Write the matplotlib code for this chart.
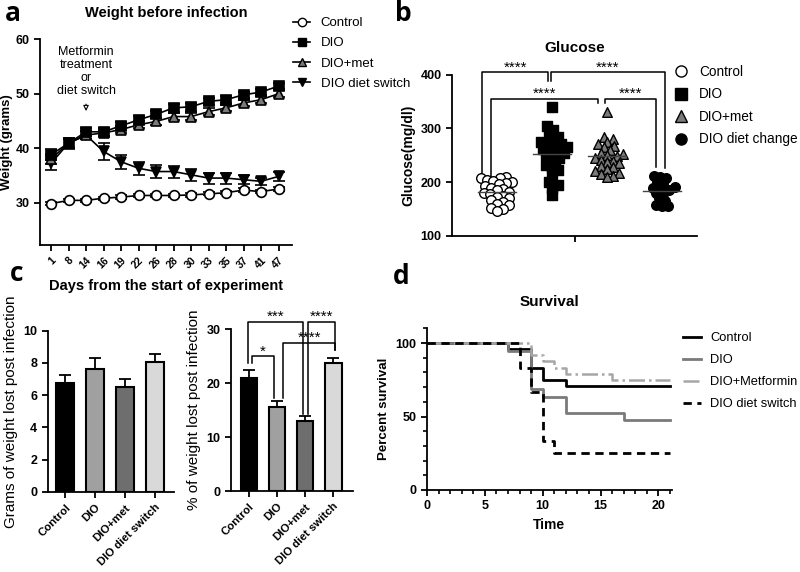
import matplotlib
matplotlib.use('Agg')
import matplotlib.pyplot as plt
from matplotlib.lines import Line2D
import numpy as np

plt.rcParams['font.family'] = ['Liberation Sans', 'DejaVu Sans']

# ---- panel a: weight before infection
days = ['1', '8', '14', '16', '19', '22', '26', '28', '30', '33', '35', '37', '41', '47']
w_control = [29.8, 30.4, 30.4, 30.8, 31.0, 31.3, 31.3, 31.3, 31.4, 31.6, 31.8, 32.3, 32.0, 32.5]
w_dio = [38.8, 40.9, 43.0, 43.0, 44.1, 45.2, 46.2, 47.4, 47.6, 48.6, 48.9, 49.8, 50.3, 51.4]
w_met = [38.0, 40.9, 42.4, 42.8, 43.4, 44.3, 44.9, 45.8, 45.8, 46.7, 47.4, 48.3, 48.9, 50.0]
w_switch = [37.2, 40.9, 42.4, 39.4, 37.5, 36.3, 35.7, 35.7, 35.1, 34.5, 34.5, 34.2, 33.9, 34.8]
e_control = [0.3] * 14
e_dio = [1.0, 0.8, 0.7, 0.7, 0.7, 0.7, 0.7, 0.7, 0.7, 0.6, 0.6, 0.6, 0.6, 0.6]
e_met = [1.0, 0.8, 0.7, 0.6, 0.6, 0.6, 0.6, 0.6, 0.6, 0.6, 0.6, 0.6, 0.6, 0.6]
e_switch = [1.3, 1.0, 0.8, 1.5, 1.3, 1.2, 1.2, 1.1, 1.1, 1.0, 1.0, 0.8, 0.7, 0.9]

# ---- panel b: glucose
glu_groups = ['Control', 'DIO', 'DIO+met', 'DIO diet change']
glu_control = [210, 208, 207, 205, 203, 200, 198, 196, 193, 190, 188, 185, 182,
               180, 178, 175, 172, 170, 167, 163, 160, 157, 153, 150, 147]
glu_dio = [340, 305, 298, 290, 284, 280, 275, 272, 270, 268, 265, 262, 260, 258,
           255, 252, 250, 246, 242, 238, 232, 228, 222, 215, 200, 195, 190, 177]
glu_met = [330, 285, 280, 275, 272, 268, 265, 260, 255, 252, 250, 248, 245,
           242, 240, 238, 235, 230, 228, 225, 220, 218, 215, 212, 210]
glu_switch = [212, 210, 208, 200, 198, 192, 190, 188, 185, 180, 178, 170, 165, 158, 155, 155]

# ---- panel c: weight lost
c_groups = ['Control', 'DIO', 'DIO+met', 'DIO diet switch']
lost_grams = [6.77, 7.64, 6.52, 8.07]
lost_grams_err = [0.47, 0.68, 0.5, 0.5]
lost_pct = [20.9, 15.5, 13.0, 23.7]
lost_pct_err = [1.5, 1.2, 0.9, 0.9]

# ---- panel d: survival
surv_control_t = [0, 7, 9, 10, 12, 21]
surv_control = [100, 95.8, 83.3, 75, 70.8, 70.8]
surv_dio_t = [0, 7, 9, 10, 12, 17, 21]
surv_dio = [100, 94.7, 68.4, 63.2, 52.6, 47.4, 47.4]
surv_met_t = [0, 9, 10, 11, 12, 16, 21]
surv_met = [100, 91.7, 87.5, 83.3, 79.2, 75, 75]
surv_switch_t = [0, 8, 9, 10, 11, 21]
surv_switch = [100, 83.3, 66.7, 33.3, 25, 25]

fig = plt.figure(figsize=(8, 5.72), dpi=100)
W, H = 800.0, 572.0


def add_ax(x0, y0, x1, y1):
    # pixel box -> figure axes
    return fig.add_axes([x0 / W, 1 - y1 / H, (x1 - x0) / W, (y1 - y0) / H])


def style(ax):
    for s in ['top', 'right']:
        ax.spines[s].set_visible(False)
    for s in ['left', 'bottom']:
        ax.spines[s].set_linewidth(1.3)
    ax.tick_params(direction='out', width=1.3, length=4, labelsize=9)
    for lab in ax.get_xticklabels() + ax.get_yticklabels():
        lab.set_fontweight('bold')


def bracket(ax, x1, x2, y, y1, y2, txt, fs=11):
    ax.plot([x1, x1, x2, x2], [y1, y, y, y2], color='black', lw=1.1, clip_on=False)
    ax.annotate(txt, xy=((x1 + x2) / 2, y), xytext=(0, 0.5), textcoords='offset points',
                ha='center', va='baseline', fontsize=fs, annotation_clip=False)


# ================= a =================
axa = add_ax(40, 39.3, 292, 245)
x = np.arange(len(days))
kw = dict(color='black', lw=1.2, capsize=4, elinewidth=1.2, capthick=1.2, ms=7, mec='black', mew=1.2)
axa.errorbar(x, w_control, yerr=e_control, marker='o', mfc='white', label='Control', **kw)
axa.errorbar(x, w_switch, yerr=e_switch, marker='v', mfc='black', label='DIO diet switch', **kw)
axa.errorbar(x, w_met, yerr=e_met, marker='^', mfc='#7a7a7a', label='DIO+met', **kw)
axa.errorbar(x, w_dio, yerr=e_dio, marker='s', mfc='black', label='DIO', **kw)
axa.set_xlim(-0.63, 13.77)
axa.set_ylim(22.2, 60)
axa.set_yticks([30, 40, 50, 60])
axa.set_xticks(x)
axa.set_xticklabels(days, rotation=45, ha='right', rotation_mode='anchor')
style(axa)
axa.tick_params(axis='x', labelsize=7.5)
axa.set_ylabel('Weight (grams)', fontsize=9.5, fontweight='bold', labelpad=2)
axa.set_xlabel('Days from the start of experiment', fontsize=10.5, fontweight='bold', labelpad=6)
axa.set_title('Weight before infection', fontsize=10.5, fontweight='bold', pad=16)
axa.text(2, 58.8, 'Metformin\ntreatment\nor\ndiet switch', ha='center', va='top', fontsize=9,
         linespacing=1.1)
axa.annotate('', xy=(2, 46.3), xytext=(2, 48.6),
             arrowprops=dict(arrowstyle='-|>', color='black', lw=0.8, fc='white', mutation_scale=8))
hs = [Line2D([], [], color='black', lw=1.2, marker=m, mfc=fc, mec='black', ms=6)
      for m, fc in [('o', 'white'), ('s', 'black'), ('^', '#7a7a7a'), ('v', 'black')]]
fig.legend(hs, ['Control', 'DIO', 'DIO+met', 'DIO diet switch'], loc='upper left',
           bbox_to_anchor=(293 / W, 1 - 17 / H), frameon=False, fontsize=9.5,
           handlelength=1.3, handletextpad=0.8, labelspacing=0.6, borderaxespad=0, borderpad=0)

# ================= b =================
axb = add_ax(452, 74.7, 697, 236)
axb.set_xlim(0.18, 4.64)
axb.set_ylim(100, 400)
px_x, px_y = 55.0, 0.538  # pixels per data unit


def swarm(vals, dmin=6.0):
    # simple deterministic beeswarm, offsets in pixels
    placed = []
    out = {}
    order = sorted(range(len(vals)), key=lambda i: vals[i])
    for i in order:
        yv = vals[i] * px_y
        for k in range(0, 60):
            cands = [0.0] if k == 0 else [k * 1.5, -k * 1.5]
            ok = None
            for c in cands:
                if all((c - px) ** 2 + (yv - py) ** 2 >= dmin ** 2 for px, py in placed):
                    ok = c
                    break
            if ok is not None:
                placed.append((ok, yv))
                out[i] = ok
                break
    return [out[i] / px_x for i in range(len(vals))]


gstyle = [('o', 'white'), ('s', 'black'), ('^', '#7a7a7a'), ('o', 'black')]
for gi, vals in enumerate([glu_control, glu_dio, glu_met, glu_switch]):
    xs = np.array(swarm(vals)) + gi + 1
    m, fc = gstyle[gi]
    axb.scatter(xs, vals, marker=m, s=48, facecolor=fc, edgecolor='black', linewidth=1, zorder=3)
    mu = np.mean(vals)
    axb.plot([gi + 1 - 0.35, gi + 1 + 0.35], [mu, mu], color='#444444', lw=1, zorder=4)
axb.set_xticks([2.41])
axb.set_xticklabels([''])
axb.set_yticks([100, 200, 300, 400])
style(axb)
axb.set_ylabel('Glucose(mg/dl)', fontsize=10, fontweight='bold', labelpad=4)
axb.set_title('Glucose', fontsize=11, fontweight='bold', pad=16)
bracket(axb, 0.73, 1.93, 405, 195, 389, '****')
bracket(axb, 1.98, 4.05, 405, 389, 226, '****')
bracket(axb, 0.89, 2.84, 355, 195, 347, '****')
bracket(axb, 2.96, 3.90, 355, 347, 229, '****')
hb = [Line2D([], [], ls='none', marker=m, mfc=fc, mec='black', ms=8) for m, fc in gstyle]
fig.legend(hb, glu_groups, loc='upper left', bbox_to_anchor=(673 / W, 1 - 65 / H),
           frameon=False, fontsize=9.8, handlelength=1.2, handletextpad=0.7,
           labelspacing=0.62, borderaxespad=0, borderpad=0)

# ================= c =================
bar_colors = ['black', '#a0a0a0', '#6e6e6e', '#d9d9d9']
for box, vals, errs, ylim, yt, ylab in [
        ((47.7, 330.7, 174, 492), lost_grams, lost_grams_err, 10, [0, 2, 4, 6, 8, 10],
         'Grams of weight lost post infection'),
        ((231, 329.3, 353, 491), lost_pct, lost_pct_err, 30, [0, 10, 20, 30],
         '% of weight lost post infection')]:
    ax = add_ax(*box)
    xc = np.arange(4)
    ax.bar(xc, vals, width=0.6, color=bar_colors, edgecolor='black', linewidth=1.5, zorder=2)
    ax.errorbar(xc, vals, yerr=[[0] * 4, errs], fmt='none', ecolor='black', elinewidth=1.3,
                capsize=4, capthick=1.3, zorder=1)
    ax.set_ylim(0, ylim)
    ax.set_yticks(yt)
    ax.set_xticks(xc)
    ax.set_xticklabels(c_groups, rotation=45, ha='right', rotation_mode='anchor')
    style(ax)
    ax.tick_params(axis='x', labelsize=8.2)
    ax.set_ylabel(ylab, fontsize=11, labelpad=4)
    if ylim == 10:
        ax.set_xlim(-0.59, 3.64)
        axc1 = ax
    else:
        ax.set_xlim(-0.64, 3.71)
        axc2 = ax

bracket(axc2, -0.02, 1.94, 31.4, 23.7, 14.3, '***')
bracket(axc2, 2.12, 3.07, 31.4, 14.3, 26.2, '****')
bracket(axc2, 1.23, 3.07, 27.5, 17.3, 26.2, '****')
bracket(axc2, 0.10, 0.89, 25.0, 23.7, 17.3, '*')

# ================= d =================
axd = add_ax(427, 328.3, 671.7, 490)
axd.step(surv_control_t, surv_control, where='post', color='black', lw=2, label='Control')
axd.step(surv_dio_t, surv_dio, where='post', color='#7a7a7a', lw=2, label='DIO')
axd.step(surv_met_t, surv_met, where='post', color='#a6a6a6', lw=1.8, ls='-.',
         label='DIO+Metformin')
axd.step(surv_switch_t, surv_switch, where='post', color='black', lw=2, ls=(0, (3, 2)),
         label='DIO diet switch')
axd.set_xlim(0, 21.15)
axd.set_ylim(0, 110)
axd.set_xticks([0, 5, 10, 15, 20])
axd.set_xticks(np.arange(0, 22, 1), minor=True)
axd.set_yticks([0, 50, 100])
axd.set_yticks(np.arange(0, 111, 10), minor=True)
style(axd)
axd.tick_params(which='minor', direction='out', width=1.2, length=3)
axd.set_ylabel('Percent survival', fontsize=9.5, fontweight='bold', labelpad=4)
axd.set_xlabel('Time', fontsize=10, fontweight='bold', labelpad=4)
axd.set_title('Survival', fontsize=11, fontweight='bold', pad=16)
fig.legend(*axd.get_legend_handles_labels(), loc='upper left',
           bbox_to_anchor=(683 / W, 1 - 332 / H), frameon=False, fontsize=9.3,
           handlelength=1.4, handletextpad=0.7, labelspacing=0.78, borderaxespad=0, borderpad=0)

# panel letters
for lab, (px, py) in zip('abcd', [(5, 0), (395, 0), (10, 260), (393, 263)]):
    fig.text(px / W, 1 - py / H, lab, fontsize=19, fontweight='bold', va='top', ha='left',
             family=['Open Sans', 'DejaVu Sans'])

fig.savefig('out.png', dpi=100)
